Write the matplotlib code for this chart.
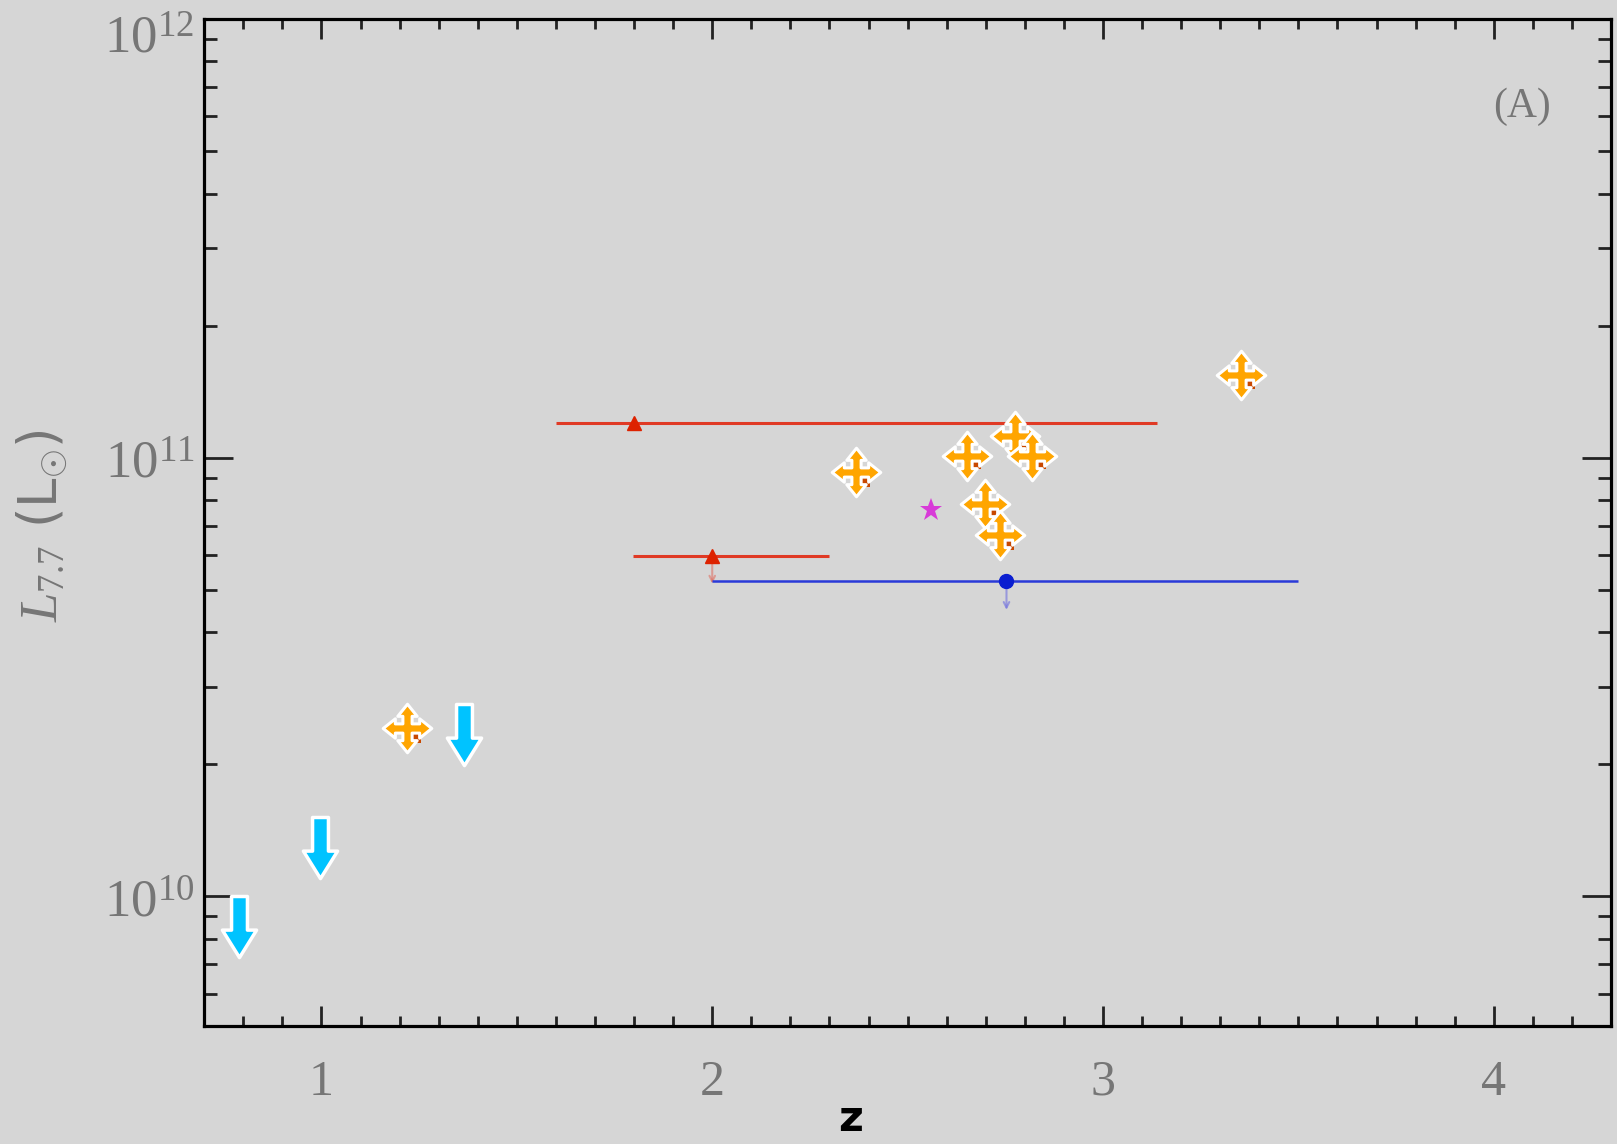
import matplotlib
matplotlib.use("Agg")
import matplotlib.pyplot as plt
from matplotlib.path import Path
from matplotlib.ticker import MultipleLocator, LogLocator, NullFormatter
from matplotlib.transforms import ScaledTranslation

plt.rcParams['mathtext.fontset'] = 'custom'
plt.rcParams['mathtext.rm'] = 'Liberation Serif'
plt.rcParams['mathtext.it'] = 'Liberation Serif:italic'

# --- data ---
# orange "move" markers
z_cross = [1.219, 2.367, 2.652, 2.776, 2.819, 2.697, 2.737, 3.353]
L_cross = [2.42e10, 9.25e10, 1.01e11, 1.12e11, 1.01e11, 7.86e10, 6.65e10, 1.54e11]
# small dark orange squares partly hidden under them
z_sq = [1.243, 2.390, 2.676, 2.800, 2.842, 2.721, 2.760, 3.376]
L_sq = [2.30e10, 8.81e10, 9.66e10, 1.064e11, 9.66e10, 7.49e10, 6.33e10, 1.47e11]

# cyan upper-limit arrows (top of arrow)
z_up = [0.789, 0.995, 1.365]
L_up = [1.0e10, 1.52e10, 2.74e10]

# red triangles with redshift range
z_red = [1.80, 2.00]
L_red = [1.20e11, 5.97e10]
zlo_red = [1.600, 1.796]
zhi_red = [3.139, 2.300]

# blue point with redshift range
z_blue = [2.753]
L_blue = [5.24e10]
zlo_blue = [2.000]
zhi_blue = [3.500]

# magenta star
z_star = [2.56]
L_star = [7.61e10]

xtick_vals = [1, 2, 3, 4]
xtick_labels = ['1', '2', '3', '4']
ytick_vals = [1e10, 1e11, 1e12]
ytick_labels = [r'$10^{10}$', r'$10^{11}$', r'$10^{12}$']

bg = '#d6d6d6'
grey_txt = '#767676'

# four-way arrow marker
w, hb, hw = 0.19, 0.50, 0.40
cross_verts = [(1, 0), (hb, hw), (hb, w), (w, w), (w, hb), (hw, hb), (0, 1),
               (-hw, hb), (-w, hb), (-w, w), (-hb, w), (-hb, hw), (-1, 0),
               (-hb, -hw), (-hb, -w), (-w, -w), (-w, -hb), (-hw, -hb), (0, -1),
               (hw, -hb), (w, -hb), (w, -w), (hb, -w), (hb, -hw), (1, 0)]
cross_path = Path(cross_verts, closed=True)

# down arrow marker, origin at top of shaft
sw, aw, ab = 0.13, 0.28, -0.55
arrow_verts = [(-sw, 0), (sw, 0), (sw, ab), (aw, ab), (0, -1), (-aw, ab),
               (-sw, ab), (-sw, 0)]
arrow_path = Path(arrow_verts, closed=True)

fig = plt.figure(figsize=(16.17, 11.44), dpi=100, facecolor=bg)
ax = fig.add_axes([0.1263, 0.1031, 0.8700, 0.8803], facecolor=bg)

ax.set_yscale('log')
ax.set_xlim(0.7, 4.3)
ax.set_ylim(5.06e9, 1e12)

# red triangles and ranges
ax.errorbar(z_red, L_red,
            xerr=[[z - lo for z, lo in zip(z_red, zlo_red)],
                  [hi - z for z, hi in zip(z_red, zhi_red)]],
            fmt='^', color='#dd2200', ecolor='#e03a25', elinewidth=2.2,
            ms=10, capsize=0, zorder=3)
ax.annotate('', xy=(z_red[1], L_red[1]), xytext=(0, -22),
            textcoords='offset points',
            arrowprops=dict(arrowstyle='<-', color='#e06050', alpha=0.5, lw=1.5),
            zorder=2)

# blue point and range
ax.errorbar(z_blue, L_blue,
            xerr=[[z - lo for z, lo in zip(z_blue, zlo_blue)],
                  [hi - z for z, hi in zip(z_blue, zhi_blue)]],
            fmt='o', color='#0a1ed0', ecolor='#2a3ad8', elinewidth=1.8,
            ms=10, capsize=0, zorder=3)
ax.annotate('', xy=(z_blue[0], L_blue[0]), xytext=(0, -23),
            textcoords='offset points',
            arrowprops=dict(arrowstyle='<-', color='#7070e0', alpha=0.6, lw=1.5),
            zorder=2)

ax.plot(z_star, L_star, '*', color='#d83ad8', ms=17, mew=0, zorder=4)

ax.plot(z_sq, L_sq, 's', color='#c84800', ms=7, mew=0, zorder=4)
ax.plot(z_cross, L_cross, ls='none', marker=cross_path, ms=35,
        mfc='#ffa500', mec='white', mew=2.2, zorder=5)

ax.plot(z_up, L_up, ls='none', marker=arrow_path, ms=88,
        mfc='#00c3ff', mec='white', mew=2.5, zorder=5)

# axes styling
for s in ax.spines.values():
    s.set_linewidth(2.3)
    s.set_color('black')

ax.xaxis.set_minor_locator(MultipleLocator(0.1))
ax.set_xticks(xtick_vals)
ax.set_xticklabels(xtick_labels)
ax.set_yticks(ytick_vals)
ax.set_yticklabels(ytick_labels)
ax.yaxis.set_minor_locator(LogLocator(base=10, subs=range(2, 10)))
ax.yaxis.set_minor_formatter(NullFormatter())

ax.tick_params(which='both', direction='in', top=True, right=True,
               color='#222222', width=2.0, labelcolor=grey_txt)
ax.tick_params(axis='x', which='major', length=14.5, pad=24, labelsize=36)
ax.tick_params(axis='x', which='minor', length=7.5)
ax.tick_params(axis='y', which='major', length=21, pad=7, labelsize=38)
ax.tick_params(axis='y', which='minor', length=9.5)
for lab in ax.get_xticklabels():
    lab.set_family('Liberation Serif')

# top label sits lower than its tick in the original
top_lab = ax.get_yticklabels()[-1]
top_lab.set_transform(top_lab.get_transform()
                      + ScaledTranslation(0, -10 / 72, fig.dpi_scale_trans))

ax.text(0.937, 0.913, '(A)', transform=ax.transAxes, ha='center', va='center',
        fontsize=30, color=grey_txt, family='Liberation Serif')

fig.text(0.0254, 0.540, r'$L_{7.7}$ (L$_{\odot}$)', rotation=90,
         ha='center', va='center', fontsize=38, color=grey_txt)
fig.text(0.526, 0.0035, 'z', ha='center', va='bottom', fontsize=31,
         fontweight='bold', color='black')

fig.savefig('out.png', dpi=100, facecolor=bg)
